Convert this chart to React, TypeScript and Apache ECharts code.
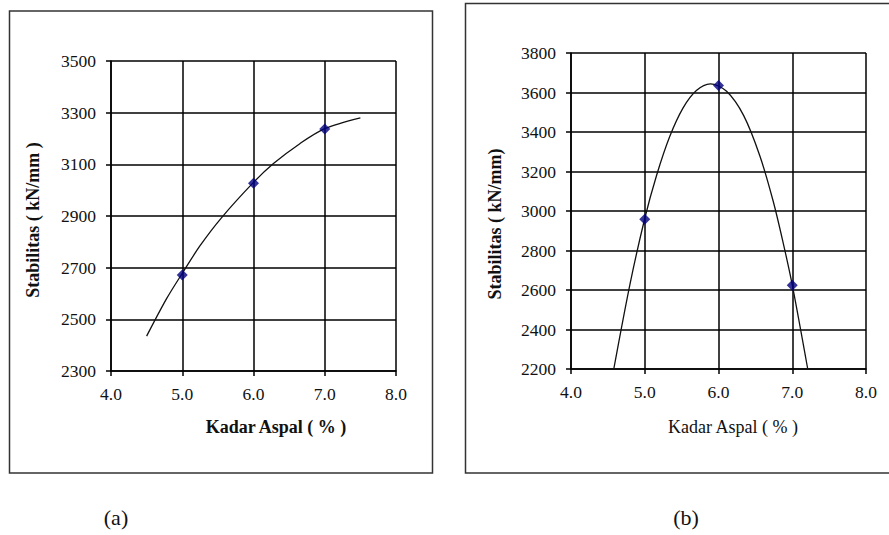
import React, { useEffect, useRef } from "react";
import * as echarts from "echarts";

// Chart (a)
const markerXA = [5.0, 6.0, 7.0];
const markerYA = [2672, 3027, 3237];
const trendXA = [4.5, 4.78, 5.0, 5.25, 5.55, 6.0, 6.28, 6.65, 7.0, 7.5];
const trendYA = [2435, 2580, 2678, 2785, 2893, 3030, 3103, 3180, 3238, 3280];

// Chart (b)
const markerXB = [5.0, 6.0, 7.0];
const markerYB = [2958, 3635, 2624];
const trendXB = [4.58, 4.8, 5.0, 5.16, 5.34, 5.52, 5.7, 5.89, 6.11, 6.34, 6.56, 6.74, 6.87, 7.0, 7.21];
const trendYB = [2200, 2630, 2962, 3180, 3378, 3522, 3610, 3644, 3606, 3484, 3280, 3052, 2850, 2626, 2200];

const xAxisTitle = "Kadar Aspal ( % )";
const yAxisTitleA = "Stabilitas ( kN/mm )";
const yAxisTitleB = "Stabilitas ( kN/mm)";
const panelLabels = ["(a)", "(b)"];

const FONT = "'Liberation Serif', 'Times New Roman', serif";

const zip = (xs: number[], ys: number[]) => xs.map((x, i) => [x, ys[i]]);

export default function App() {
  const ref = useRef<HTMLDivElement>(null);
  useEffect(() => {
    if (!ref.current) return;
    const chart = echarts.init(ref.current, null, { renderer: "svg" });
    const axisCommonX = {
      type: "value" as const,
      min: 4,
      max: 8,
      interval: 1,
      axisLine: { show: true, lineStyle: { color: "#000", width: 1.5 } },
      axisTick: { show: true, length: 5, lineStyle: { color: "#000", width: 1.5 } },
      splitLine: { show: true, lineStyle: { color: "#000", width: 1.5 } },
      axisLabel: {
        formatter: (v: number) => v.toFixed(1),
        color: "#111",
        fontFamily: FONT,
        fontSize: 17.5,
        margin: 14,
      },
    };
    const axisCommonY = {
      type: "value" as const,
      interval: 200,
      axisLine: { show: true, lineStyle: { color: "#000", width: 1.5 } },
      axisTick: { show: true, length: 5, lineStyle: { color: "#000", width: 1.5 } },
      splitLine: { show: true, lineStyle: { color: "#000", width: 1.5 } },
      axisLabel: {
        formatter: (v: number) => String(v),
        color: "#111",
        fontFamily: FONT,
        fontSize: 17.5,
        margin: 15,
      },
    };
    chart.setOption({
      animation: false,
      backgroundColor: "#fff",
      grid: [
        { left: 111, top: 61, width: 285, height: 310 },
        { left: 571, top: 53, width: 295, height: 316 },
      ],
      xAxis: [
        { ...axisCommonX, gridIndex: 0 },
        { ...axisCommonX, gridIndex: 1 },
      ],
      yAxis: [
        { ...axisCommonY, gridIndex: 0, min: 2300, max: 3500 },
        { ...axisCommonY, gridIndex: 1, min: 2200, max: 3800 },
      ],
      series: [
        {
          type: "line",
          xAxisIndex: 0,
          yAxisIndex: 0,
          data: zip(trendXA, trendYA),
          smooth: 0.3,
          showSymbol: false,
          lineStyle: { color: "#111", width: 1.3 },
          z: 3,
        },
        {
          type: "scatter",
          xAxisIndex: 0,
          yAxisIndex: 0,
          data: zip(markerXA, markerYA),
          symbol: "diamond",
          symbolSize: [11, 11],
          itemStyle: { color: "#000080" },
          z: 4,
        },
        {
          type: "line",
          xAxisIndex: 1,
          yAxisIndex: 1,
          data: zip(trendXB, trendYB),
          smooth: 0.3,
          showSymbol: false,
          lineStyle: { color: "#111", width: 1.3 },
          z: 3,
        },
        {
          type: "scatter",
          xAxisIndex: 1,
          yAxisIndex: 1,
          data: zip(markerXB, markerYB),
          symbol: "diamond",
          symbolSize: [11, 11],
          itemStyle: { color: "#000080" },
          z: 4,
        },
      ],
      graphic: [
        {
          type: "rect",
          shape: { x: 9.5, y: 11, width: 423, height: 462 },
          style: { fill: "none", stroke: "#333", lineWidth: 1.5 },
          z: -1,
        },
        {
          type: "rect",
          shape: { x: 465.5, y: 3.5, width: 440, height: 469.5 },
          style: { fill: "none", stroke: "#333", lineWidth: 1.5 },
          z: -1,
        },
        {
          type: "text",
          x: 276,
          y: 427,
          style: {
            text: xAxisTitle,
            font: `bold 18px ${FONT}`,
            fill: "#111",
            align: "center",
            verticalAlign: "middle",
          },
        },
        {
          type: "text",
          x: 733,
          y: 427,
          style: {
            text: xAxisTitle,
            font: `18px ${FONT}`,
            fill: "#111",
            align: "center",
            verticalAlign: "middle",
          },
        },
        {
          type: "text",
          x: 33,
          y: 220,
          rotation: Math.PI / 2,
          style: {
            text: yAxisTitleA,
            font: `bold 18px ${FONT}`,
            fill: "#111",
            align: "center",
            verticalAlign: "middle",
          },
        },
        {
          type: "text",
          x: 495,
          y: 224,
          rotation: Math.PI / 2,
          style: {
            text: yAxisTitleB,
            font: `bold 18px ${FONT}`,
            fill: "#111",
            align: "center",
            verticalAlign: "middle",
          },
        },
        {
          type: "text",
          x: 116,
          y: 517,
          style: {
            text: panelLabels[0],
            font: `22px ${FONT}`,
            fill: "#111",
            align: "center",
            verticalAlign: "middle",
          },
        },
        {
          type: "text",
          x: 686,
          y: 517,
          style: {
            text: panelLabels[1],
            font: `22px ${FONT}`,
            fill: "#111",
            align: "center",
            verticalAlign: "middle",
          },
        },
      ],
    });
    return () => chart.dispose();
  }, []);
  return (
    <div
      ref={ref}
      style={{ position: "absolute", left: 0, top: 0, width: 889, height: 535 }}
    />
  );
}
